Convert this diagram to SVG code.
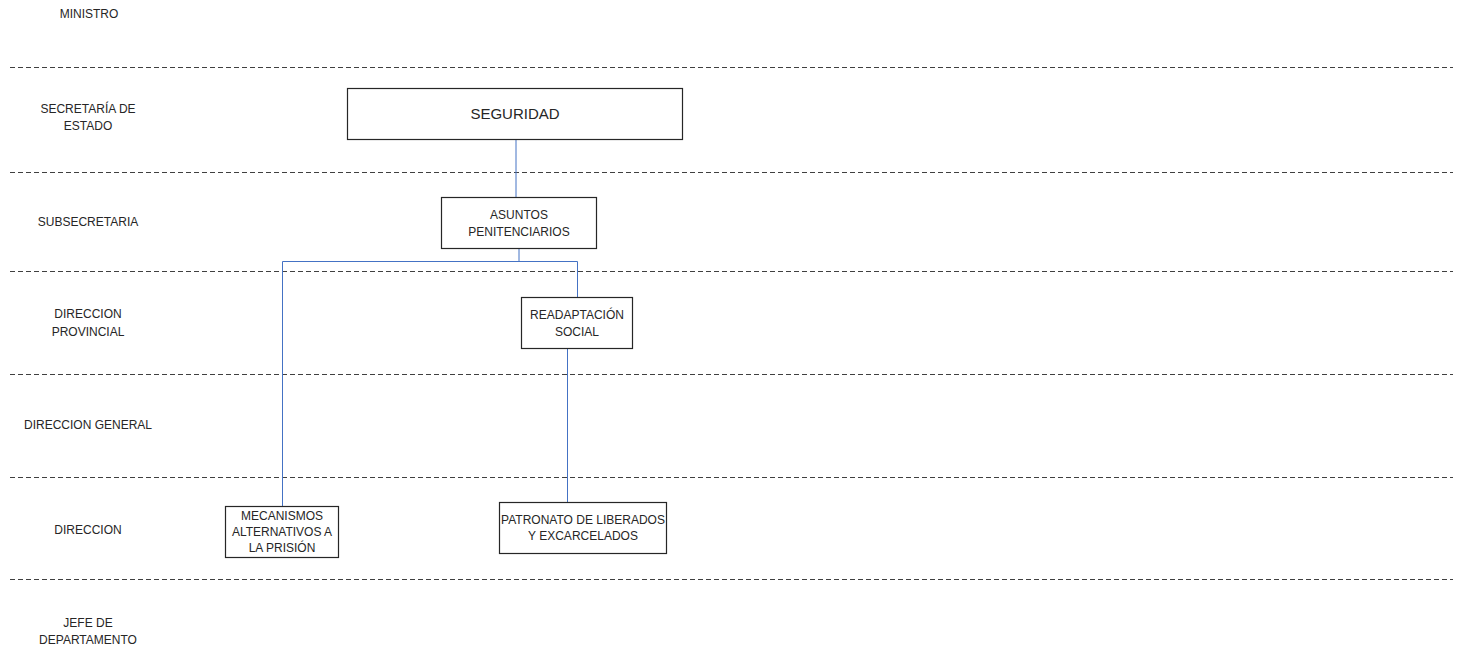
<svg xmlns="http://www.w3.org/2000/svg" width="1457" height="650" viewBox="0 0 1457 650">
<style>
.bg{fill:#ffffff}
.sep{stroke:#404040;stroke-width:1;stroke-dasharray:5,3;fill:none}
.lbl{font-family:"Liberation Sans",Arial,sans-serif;font-size:12px;fill:#262626;text-anchor:middle}
.box{fill:#ffffff;stroke:#262626;stroke-width:1.2}
.btxt{font-family:"Liberation Sans",Arial,sans-serif;font-size:12px;fill:#262626;text-anchor:middle}
.big{font-size:15px}
.con{stroke:#4472c4;stroke-width:1;fill:none}
</style>
<rect class="bg" x="0" y="0" width="1457" height="650"/>
<g id="separators">
<line class="sep" x1="10" y1="67.5" x2="1453" y2="67.5"/>
<line class="sep" x1="10" y1="172.5" x2="1453" y2="172.5"/>
<line class="sep" x1="10" y1="271.5" x2="1453" y2="271.5"/>
<line class="sep" x1="10" y1="374.5" x2="1453" y2="374.5"/>
<line class="sep" x1="10" y1="477.5" x2="1453" y2="477.5"/>
<line class="sep" x1="10" y1="579.5" x2="1453" y2="579.5"/>
</g>
<g id="levels">
<text class="lbl" x="89" y="18">MINISTRO</text>
<text class="lbl" x="88" y="113">SECRETARÍA DE</text>
<text class="lbl" x="88" y="130">ESTADO</text>
<text class="lbl" x="88" y="226">SUBSECRETARIA</text>
<text class="lbl" x="88" y="318">DIRECCION</text>
<text class="lbl" x="88" y="336">PROVINCIAL</text>
<text class="lbl" x="88" y="429">DIRECCION GENERAL</text>
<text class="lbl" x="88" y="534">DIRECCION</text>
<text class="lbl" x="88" y="627">JEFE DE</text>
<text class="lbl" x="88" y="644">DEPARTAMENTO</text>
</g>
<g id="connectors">
<line class="con" x1="516" y1="140" x2="516" y2="197"/>
<polyline class="con" points="519,248 519,261.5 282.5,261.5 282.5,506"/>
<polyline class="con" points="519,261.5 577.5,261.5 577.5,297"/>
<line class="con" x1="567.5" y1="349" x2="567.5" y2="502"/>
</g>
<g id="node-seguridad">
<rect class="box" x="347.5" y="88.5" width="335" height="51"/>
<text class="btxt big" x="515" y="119">SEGURIDAD</text>
</g>
<g id="node-asuntos">
<rect class="box" x="441.5" y="197.5" width="155" height="51"/>
<text class="btxt" x="519" y="219">ASUNTOS</text>
<text class="btxt" x="519" y="236">PENITENCIARIOS</text>
</g>
<g id="node-readaptacion">
<rect class="box" x="521.5" y="297.5" width="111" height="51"/>
<text class="btxt" x="577" y="319">READAPTACIÓN</text>
<text class="btxt" x="577" y="336">SOCIAL</text>
</g>
<g id="node-mecanismos">
<rect class="box" x="225.5" y="506.5" width="113" height="51"/>
<text class="btxt" x="282" y="520">MECANISMOS</text>
<text class="btxt" x="282" y="536">ALTERNATIVOS A</text>
<text class="btxt" x="282" y="552">LA PRISIÓN</text>
</g>
<g id="node-patronato">
<rect class="box" x="499.5" y="502.5" width="167" height="51"/>
<text class="btxt" x="583" y="524">PATRONATO DE LIBERADOS</text>
<text class="btxt" x="583" y="540">Y EXCARCELADOS</text>
</g>
</svg>
